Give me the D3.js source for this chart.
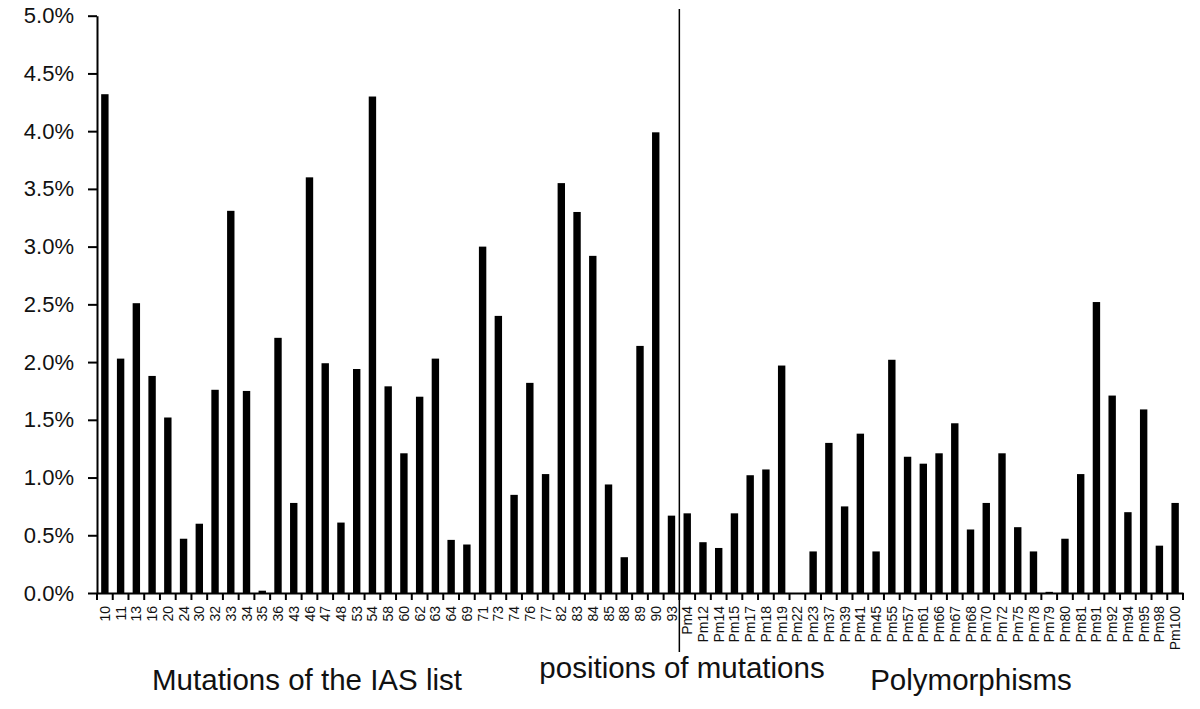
<!DOCTYPE html>
<html>
<head>
<meta charset="utf-8">
<script src="https://cdn.jsdelivr.net/npm/d3@7"></script>
<style>
  body { margin: 0; background: #fff; }
  svg { display: block; }
  text { font-family: "Liberation Sans", Arial, sans-serif; fill: #111; }
</style>
</head>
<body>
<svg id="chart" width="1200" height="709"></svg>
<script>
// positions of mutations - IAS list first, then the polymorphisms

var iasPositions = ["10","11","13","16","20","24","30","32","33","34","35","36","43","46","47","48",
  "53","54","58","60","62","63","64","69","71","73","74","76","77","82","83","84","85","88","89","90","93"];
var iasValues = [4.32,2.03,2.51,1.88,1.52,0.47,0.60,1.76,3.31,1.75,0.02,2.21,0.78,3.60,1.99,0.61,
  1.94,4.30,1.79,1.21,1.70,2.03,0.46,0.42,3.00,2.40,0.85,1.82,1.03,3.55,3.30,2.92,0.94,0.31,2.14,3.99,0.67];

var polyPositions = ["Pm4","Pm12","Pm14","Pm15","Pm17","Pm18","Pm19","Pm22","Pm23","Pm37","Pm39","Pm41",
  "Pm45","Pm55","Pm57","Pm61","Pm66","Pm67","Pm68","Pm70","Pm72","Pm75","Pm78","Pm79","Pm80","Pm81",
  "Pm91","Pm92","Pm94","Pm95","Pm98","Pm100"];
var polyValues = [0.69,0.44,0.39,0.69,1.02,1.07,1.97,0,0.36,1.30,0.75,1.38,
  0.36,2.02,1.18,1.12,1.21,1.47,0.55,0.78,1.21,0.57,0.36,0.01,0.47,1.03,
  2.52,1.71,0.70,1.59,0.41,0.78];

var yTicks = [0,0.5,1,1.5,2,2.5,3,3.5,4,4.5,5];

var groupCaptions = ["Mutations of the IAS list", "positions of mutations", "Polymorphisms"];

var data = iasPositions.map(function(p,i){ return {pos: p, value: iasValues[i]}; })
  .concat(polyPositions.map(function(p,i){ return {pos: p, value: polyValues[i]}; }));

var svg = d3.select("#chart");
// note: "top" is taken by window.top, so plot edges get their own names
var plotLeft = 97, plotRight = 1183, plotTop = 15.7, plotBottom = 593;

var x = d3.scaleBand()
  .domain(data.map(function(d){ return d.pos; }))
  .range([plotLeft, plotRight])
  .paddingInner(0.53)
  .paddingOuter(0.265);

var y = d3.scaleLinear().domain([0,5]).range([plotBottom, plotTop]);

var gap = (x.step() - x.bandwidth()) / 2;

// bars
svg.selectAll("rect.bar").data(data)
  .enter()
  .append("rect")
  .attr("class","bar")
  .attr("x", function(d){ return x(d.pos); })
  .attr("width", x.bandwidth())
  .attr("y", function(d){ return y(d.value); })
  .attr("height", function(d){ return plotBottom - y(d.value); })
  .style("fill","#000");

// y axis
var yAxis = svg.append("g")
  .attr("transform","translate("+plotLeft+",0)")
  .call(d3.axisLeft(y).tickValues(yTicks).tickSize(9).tickSizeOuter(0).tickPadding(14)
    .tickFormat(function(d){ return d.toFixed(1) + "%"; }));
yAxis.selectAll("text").style("font-size","22px").style("font-family","'Liberation Sans', Arial, sans-serif").attr("fill","#222");
yAxis.selectAll("line,path").attr("stroke","#000").attr("stroke-width",2);

// x axis labels, rotated
var xAxis = svg.append("g")
  .attr("transform","translate(0,"+plotBottom+")")
  .call(d3.axisBottom(x).tickSize(0).tickSizeOuter(0));
xAxis.select("path").attr("stroke","#000").attr("stroke-width",2);
xAxis.selectAll("text")
  .attr("transform","rotate(-90)")
  .attr("x",-13)
  .attr("y",0)
  .attr("dy","0.36em")
  .style("text-anchor","end")
  .style("font-size","14px")
  .style("font-family","'Liberation Sans', Arial, sans-serif")
  .attr("fill","#111");

// small ticks between categories
var edges = data.map(function(d){ return x(d.pos) - gap; }).concat([plotRight]);
svg.selectAll("line.edge").data(edges)
  .enter()
  .append("line")
  .attr("class","edge")
  .attr("x1", function(d){ return d; })
  .attr("x2", function(d){ return d; })
  .attr("y1", plotBottom)
  .attr("y2", plotBottom + 7)
  .attr("stroke","#000")
  .attr("stroke-width",2);

// divider between the two groups
var divX = x(polyPositions[0]) - gap;
svg.append("line")
  .attr("x1",divX).attr("x2",divX)
  .attr("y1",9).attr("y2",652)
  .attr("stroke","#000")
  .attr("stroke-width",1.5);

// group captions
var captionPos = [[307,690],[682,678],[971,690]];
svg.selectAll("text.caption").data(groupCaptions)
  .enter()
  .append("text")
  .attr("class","caption")
  .attr("x", function(d,i){ return captionPos[i][0]; })
  .attr("y", function(d,i){ return captionPos[i][1]; })
  .attr("text-anchor","middle")
  .style("font-size","29.5px")
  .text(function(d){ return d; });
</script>
</body>
</html>
